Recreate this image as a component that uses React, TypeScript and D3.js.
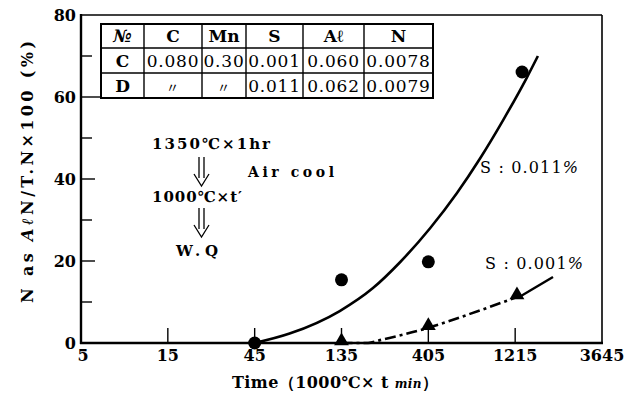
import * as d3 from 'd3';

// axis ticks
const xTicks = [5, 15, 45, 135, 405, 1215, 3645];
const yTicks = [0, 20, 40, 60, 80];
const yMinorTicks = [10, 30, 50, 70];

// measured points
const timeS011 = [45, 135, 405, 1326];
const valS011 = [0, 15.4, 19.8, 66.1];
const timeS001 = [135, 405, 1243];
const valS001 = [0, 3.7, 11.2];

// hand-drawn fit lines
const fitS011Time = [45, 70, 132, 201, 283, 414, 582, 779, 1042, 1411, 1620];
const fitS011Val = [0, 2.3, 7.8, 13.4, 19.7, 28.0, 36.6, 45.0, 54.3, 64.8, 70.0];
const fitS001Time = [135, 189, 220, 405, 686, 1243];
const fitS001Val = [0, 0, 0.7, 3.7, 7.1, 11.2];

// composition table
const tableHeader = ['№', 'C', 'Mn', 'S', 'Aℓ', 'N'];
const tableRowC = ['C', '0.080', '0.30', '0.001', '0.060', '0.0078'];
const tableRowD = ['D', '〃', '〃', '0.011', '0.062', '0.0079'];

const W = 631;
const H = 394;
const serif = '"DejaVu Serif", "Liberation Serif", serif';

export default function App() {
  const x = d3.scaleLog().base(3).domain([5, 3645]).range([81, 602]);
  const y = d3.scaleLinear().domain([0, 80]).range([343, 15]);

  const s011 = timeS011.map((t, i) => ({ t, v: valS011[i] }));
  const s001 = timeS001.map((t, i) => ({ t, v: valS001[i] }));
  const fit011 = fitS011Time.map((t, i) => ({ t, v: fitS011Val[i] }));
  const fit001 = fitS001Time.map((t, i) => ({ t, v: fitS001Val[i] }));

  const line = d3
    .line<{ t: number; v: number }>()
    .x((d) => x(d.t))
    .y((d) => y(d.v))
    .curve(d3.curveMonotoneX);

  const tri = d3.symbol().type(d3.symbolTriangle).size(95)();

  // table layout
  const colEdges = [101, 144, 202, 246, 303, 364, 433];
  const rowEdges = [24, 48, 73, 98];
  const rows = [tableHeader, tableRowC, tableRowD];

  const lastS001 = s001[s001.length - 1];

  return (
    <svg width={W} height={H} style={{ position: 'absolute', left: 0, top: 0, background: '#fff' }} fontFamily={serif}>
      {/* frame */}
      <line x1={81} x2={602} y1={15} y2={15} stroke="#000" strokeWidth={1.6} />
      <line x1={602} x2={602} y1={15} y2={343} stroke="#000" strokeWidth={1.6} />
      <line x1={81} x2={81} y1={14} y2={344} stroke="#000" strokeWidth={2.4} />
      <line x1={80} x2={603} y1={343} y2={343} stroke="#000" strokeWidth={2.4} />

      {/* y ticks */}
      {yTicks.map((t) => (
        <g key={`y${t}`}>
          {t > 0 && t < 80 && (
            <line x1={81} x2={t === 60 ? 101 : 95} y1={y(t)} y2={y(t)} stroke="#000" strokeWidth={1.4} />
          )}
          <text x={76} y={y(t) + 6} textAnchor="end" fontSize={16} fontWeight="bold">
            {t}
          </text>
        </g>
      ))}
      {yMinorTicks.map((t) => (
        <line key={`ym${t}`} x1={81} x2={92} y1={y(t)} y2={y(t)} stroke="#000" strokeWidth={1.4} />
      ))}

      {/* x ticks */}
      {xTicks.map((t, i) => (
        <g key={`x${t}`}>
          {i > 0 && i < xTicks.length - 1 && (
            <line x1={x(t)} x2={x(t)} y1={343} y2={328} stroke="#000" strokeWidth={1.4} />
          )}
          <text x={x(t) + (i === 0 ? 2 : 0)} y={361} textAnchor="middle" fontSize={16} fontWeight="bold">
            {t}
          </text>
        </g>
      ))}

      {/* axis titles */}
      <text x={232} y={388} fontSize={16} fontWeight="bold" textLength={206} lengthAdjust="spacing">
        Time（1000℃× t <tspan fontStyle="italic" fontSize={12}>min</tspan>）
      </text>
      <text
        transform="translate(33,172) rotate(-90)"
        textAnchor="middle"
        fontSize={16}
        fontWeight="bold"
        textLength={262}
        lengthAdjust="spacing"
      >
        N as <tspan fontStyle="italic">Aℓ</tspan>N/T.N×100 (%)
      </text>

      {/* fit lines */}
      <path d={line(fit011) ?? ''} fill="none" stroke="#000" strokeWidth={2.6} />
      <path d={line(fit001) ?? ''} fill="none" stroke="#000" strokeWidth={2.6} strokeDasharray="11,4,3,4" />

      {/* points */}
      {s011.map((d, i) => (
        <circle key={`c${i}`} cx={x(d.t)} cy={y(d.v)} r={6.5} fill="#000" />
      ))}
      {s001.map((d, i) => (
        <path key={`t${i}`} d={tri ?? ''} transform={`translate(${x(d.t)},${y(d.v) - 2})`} fill="#000" />
      ))}

      {/* leader to S 0.001 */}
      <line x1={553} y1={277} x2={x(lastS001.t) + 4} y2={y(lastS001.v) - 1} stroke="#000" strokeWidth={2.4} />

      {/* series labels */}
      <text x={480} y={173} fontSize={16} textLength={98} lengthAdjust="spacing">
        S : 0.011<tspan fontStyle="italic">%</tspan>
      </text>
      <text x={485} y={269} fontSize={16} textLength={98} lengthAdjust="spacing">
        S : 0.001<tspan fontStyle="italic">%</tspan>
      </text>

      {/* heat treatment note */}
      <text x={152} y={149} fontSize={15} fontWeight="bold" textLength={118} lengthAdjust="spacing">
        1350℃×1hr
      </text>
      <text x={248} y={177} fontSize={14} fontWeight="bold" textLength={86} lengthAdjust="spacing">
        Air cool
      </text>
      <text x={152} y={202} fontSize={15} fontWeight="bold" textLength={90} lengthAdjust="spacing">
        1000℃×t′
      </text>
      <text x={176} y={256} fontSize={15} fontWeight="bold" textLength={42} lengthAdjust="spacing">
        W.Q
      </text>
      {[157, 208].map((top) => (
        <g key={`arr${top}`} stroke="#000" strokeWidth={1.3} fill="none">
          <line x1={199} x2={199} y1={top} y2={top + 21} />
          <line x1={204} x2={204} y1={top} y2={top + 21} />
          <path d={`M194,${top + 17} L201.5,${top + 29} L209,${top + 17}`} />
        </g>
      ))}

      {/* table */}
      <rect
        x={colEdges[0]}
        y={rowEdges[0]}
        width={colEdges[colEdges.length - 1] - colEdges[0]}
        height={rowEdges[rowEdges.length - 1] - rowEdges[0]}
        fill="#fff"
        stroke="#000"
        strokeWidth={2}
      />
      {colEdges.slice(1, -1).map((cx) => (
        <line key={`tc${cx}`} x1={cx} x2={cx} y1={rowEdges[0]} y2={rowEdges[3]} stroke="#000" strokeWidth={1.4} />
      ))}
      {rowEdges.slice(1, -1).map((ry) => (
        <line key={`tr${ry}`} x1={colEdges[0]} x2={colEdges[6]} y1={ry} y2={ry} stroke="#000" strokeWidth={1.4} />
      ))}
      {rows.map((row, ri) =>
        row.map((cell, ci) => {
          const cx = (colEdges[ci] + colEdges[ci + 1]) / 2;
          const cy = (rowEdges[ri] + rowEdges[ri + 1]) / 2;
          const isHead = ri === 0 || ci === 0;
          return (
            <text
              key={`cell${ri}-${ci}`}
              x={cx}
              y={cy + 6}
              textAnchor="middle"
              fontSize={cell === '〃' ? 13 : 17}
              fontWeight={isHead ? 'bold' : 'normal'}
              fontStyle={ci === 0 && ri === 0 ? 'italic' : 'normal'}
              fontFamily={cell === '〃' ? '"Noto Sans CJK JP", sans-serif' : serif}
              letterSpacing={isHead ? 0 : 0.8}
            >
              {cell}
            </text>
          );
        }),
      )}
    </svg>
  );
}
